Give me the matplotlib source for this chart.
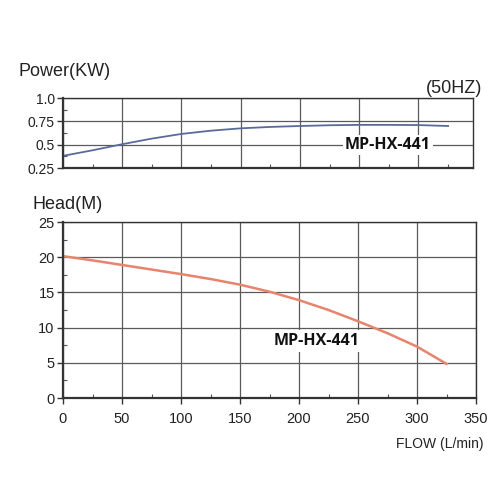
import matplotlib
matplotlib.use('Agg')
import matplotlib.pyplot as plt
from matplotlib.ticker import MultipleLocator
import numpy as np

# power curve (KW) vs flow (L/min)
power_flow = [0, 25, 50, 75, 100, 125, 150, 175, 200, 225, 250, 275, 300, 325]
power_kw = [0.38, 0.44, 0.505, 0.565, 0.615, 0.65, 0.675, 0.69, 0.70, 0.708, 0.712, 0.712, 0.71, 0.70]

# head curve (M) vs flow (L/min)
head_flow = [0, 25, 50, 75, 100, 125, 150, 175, 200, 225, 250, 275, 300, 325]
head_m = [20.15, 19.55, 18.9, 18.25, 17.6, 16.9, 16.1, 15.1, 13.9, 12.5, 10.9, 9.2, 7.3, 4.85]

power_ticks = [0.25, 0.5, 0.75, 1.0]
power_ticklabels = ['0.25', '0.5', '0.75', '1.0']
head_ticks = [0, 5, 10, 15, 20, 25]
flow_ticks = [0, 50, 100, 150, 200, 250, 300, 350]

model_name = 'MP-HX-441'

plt.rcParams['font.family'] = ['Liberation Sans', 'DejaVu Sans']

grid_c = '#5a5a5a'
text_c = '#222222'

fig = plt.figure(figsize=(5.01, 5.00), dpi=100)

def style_axes(ax):
    for s in ax.spines.values():
        s.set_color('#333333')
        s.set_linewidth(1.0)
    ax.spines['bottom'].set_linewidth(1.6)
    ax.spines['left'].set_linewidth(1.6)
    ax.grid(True, which='major', color=grid_c, linewidth=0.9)
    ax.xaxis.set_minor_locator(MultipleLocator(25))
    ax.tick_params(which='major', direction='out', length=4, width=1, color='#333333',
                   labelsize=10, labelcolor=text_c, pad=2)
    ax.tick_params(which='minor', direction='in', length=3, width=0.8, color='#555555')
    ax.set_axisbelow(True)

# ---- power panel
ax_p = fig.add_axes([63 / 501, 1 - 168 / 500, 410 / 501, 70 / 500])
ax_p.plot(power_flow, power_kw, color='#5b6b98', linewidth=1.3)
ax_p.set_xlim(0, 346)
ax_p.set_ylim(0.25, 1.0)
ax_p.set_xticks(flow_ticks[:-1])
ax_p.set_yticks(power_ticks)
ax_p.set_yticklabels(power_ticklabels)
ax_p.yaxis.set_minor_locator(MultipleLocator(0.125))
style_axes(ax_p)
ax_p.tick_params(axis='x', which='major', labelbottom=False, length=0)
ax_p.text(274, 0.5, model_name, ha='center', va='center', fontsize=11.5,
          fontweight='bold', family=['Open Sans', 'DejaVu Sans'], color='#111111',
          bbox=dict(facecolor='white', edgecolor='none', pad=1.5))

fig.text(18 / 501, 1 - 72 / 500, 'Power(KW)', fontsize=13, color=text_c,
         ha='left', va='center')
fig.text(482 / 501, 1 - 89 / 500, '(50HZ)', fontsize=13, color=text_c,
         ha='right', va='center')

# ---- head panel
ax_h = fig.add_axes([63 / 501, 1 - 398 / 500, 413 / 501, 176 / 500])
ax_h.plot(head_flow, head_m, color='#e8836c', linewidth=1.8)
ax_h.set_xlim(0, 350)
ax_h.set_ylim(0, 25)
ax_h.set_xticks(flow_ticks)
ax_h.set_yticks(head_ticks)
ax_h.yaxis.set_minor_locator(MultipleLocator(2.5))
style_axes(ax_h)
ax_h.tick_params(axis='x', which='major', labelsize=10.5, pad=6)
ax_h.tick_params(axis='y', which='major', labelsize=10.5)
ax_h.text(215, 8.1, model_name, ha='center', va='center', fontsize=11.5,
          fontweight='bold', family=['Open Sans', 'DejaVu Sans'], color='#111111',
          bbox=dict(facecolor='white', edgecolor='none', pad=2))

fig.text(32 / 501, 1 - 205 / 500, 'Head(M)', fontsize=13, color=text_c,
         ha='left', va='center')
fig.text(483 / 501, 1 - 444 / 500, 'FLOW (L/min)', fontsize=10, color=text_c,
         ha='right', va='center')

fig.savefig('out.png', dpi=100)
